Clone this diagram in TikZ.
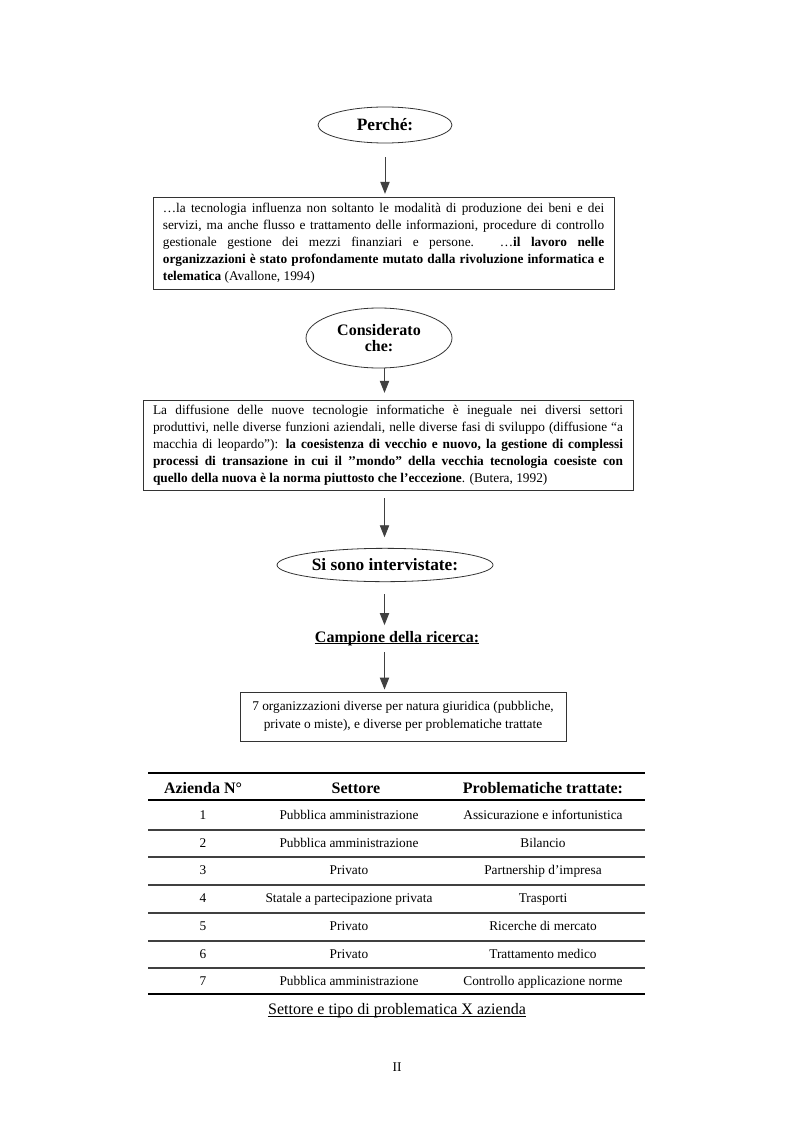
\documentclass[tikz,border=0pt]{standalone}
\usepackage{fontspec}
\setmainfont{Liberation Serif}
\usetikzlibrary{shapes.geometric,arrows.meta}
\begin{document}
\begin{tikzpicture}[x=0.75pt,y=-0.75pt,
  oval/.style={ellipse,draw=black!80,line width=0.6pt,inner sep=0pt,font=\fontsize{13}{14}\selectfont\bfseries,align=center},
  txtbox/.style={rectangle,draw=black!80,line width=0.7pt,inner sep=0pt},
  arr/.style={draw=black!75,line width=0.7pt,-{Triangle[width=7pt,length=9pt]}},
  cell/.style={inner sep=0pt,text height=7pt,text depth=2pt,font=\fontsize{10}{11}\selectfont},
  head/.style={inner sep=0pt,text height=8.5pt,text depth=2.5pt,font=\fontsize{12}{13}\selectfont\bfseries},
  uline/.style={line width=0.6pt,black},
  rulethick/.style={line width=1.5pt,black},
  rulethin/.style={line width=1pt,black!75}]
\useasboundingbox[fill=white] (0,0) rectangle (793,1123);

\node[oval,minimum width=100.5pt,minimum height=27pt] (e1) at (385,125) {Perché:};

\node[txtbox,minimum width=345.75pt,minimum height=69pt] (b1) at (383.5,243)
 {\parbox{331pt}{\fontsize{10}{12.75}\selectfont\leavevmode …la tecnologia influenza non soltanto le modalità di produzione dei beni e dei\linebreak servizi, ma anche flusso e trattamento delle informazioni, procedure di controllo\linebreak gestionale gestione dei mezzi finanziari e persone. …\textbf{il lavoro nelle\linebreak organizzazioni è stato profondamente mutato dalla rivoluzione informatica e\linebreak telematica} (Avallone, 1994)}};

\node[oval,minimum width=109.5pt,minimum height=45pt,font=\fontsize{12}{13}\selectfont\bfseries] (e2) at (379,338) {Considerato\\[-1pt]che:};

\node[txtbox,minimum width=367.5pt,minimum height=67.5pt] (b2) at (388,445)
 {\parbox{352.5pt}{\fontsize{10}{12.75}\selectfont\leavevmode La diffusione delle nuove tecnologie informatiche è ineguale nei diversi settori\linebreak produttivi, nelle diverse funzioni aziendali, nelle diverse fasi di sviluppo (diffusione “a\linebreak macchia di leopardo”): \textbf{la coesistenza di vecchio e nuovo, la gestione di complessi\linebreak processi di transazione in cui il ’’mondo” della vecchia tecnologia coesiste con\linebreak quello della nuova è la norma piuttosto che l’eccezione}. (Butera, 1992)}};

\node[oval,minimum width=162pt,minimum height=25pt] (e3) at (385,565) {Si sono intervistate:};

\node[inner sep=0pt,text height=8.5pt,text depth=2.5pt,font=\fontsize{12}{13}\selectfont\bfseries] (camp) at (397,638) {Campione della ricerca:};
\draw[uline] ([yshift=-1.4pt]camp.base west) -- ([yshift=-1.4pt]camp.base east);

\node[txtbox,minimum width=244.5pt,minimum height=36.75pt,align=center,font=\fontsize{10}{13.5}\selectfont] (b3) at (403,716.5)
 {7 organizzazioni diverse per natura giuridica (pubbliche,\\ private o miste), e diverse per problematiche trattate};

\coordinate (ax) at (384.5,0);
\draw[arr,shorten <=10.5pt,shorten >=2pt] (e1.south) -- (e1.south |- b1.north);
\draw[arr,shorten >=5pt] (ax |- e2.south) -- (ax |- b2.north);
\draw[arr,shorten <=6pt,shorten >=8pt] (ax |- b2.south) -- (ax |- e3.north);
\draw[arr,shorten <=9pt,shorten >=4pt] (ax |- e3.south) -- (ax |- camp.north);
\draw[arr,shorten <=5pt,shorten >=1.5pt] (ax |- camp.south) -- (ax |- b3.north);

% table
\draw[rulethick] (148,773) -- (645,773);
\draw[rulethick] (148,800) -- (645,800);
\foreach \y in {830,857,885,913,941,968} \draw[rulethin] (148,\y) -- (645,\y);
\draw[rulethick] (148,994) -- (645,994);

\node[head] (h1) at (203,789) {Azienda N°};
\node[head] (h2) at (356,789) {Settore};
\node[head] (h3) at (543,789) {Problematiche trattate:};

\foreach \i/\y/\s/\p in {1/816/Pubblica amministrazione/Assicurazione e infortunistica,
  2/844/Pubblica amministrazione/Bilancio,
  3/871/Privato/Partnership d’impresa,
  4/899/Statale a partecipazione privata/Trasporti,
  5/927/Privato/Ricerche di mercato,
  6/955/Privato/Trattamento medico,
  7/982/Pubblica amministrazione/Controllo applicazione norme}{
  \node[cell] (n\i) at (203,\y) {\i};
  \node[cell] (s\i) at (349,\y) {\s};
  \node[cell] (p\i) at (543,\y) {\p};
}

\node[inner sep=0pt,text height=8.5pt,text depth=2.5pt,font=\fontsize{12}{13}\selectfont] (cap) at (397,1010) {Settore e tipo di problematica X azienda};
\draw[uline] ([yshift=-1.6pt]cap.base west) -- ([yshift=-1.6pt]cap.base east);

\node[inner sep=0pt,font=\fontsize{10}{12}\selectfont] (pg) at (397,1067) {II};
\end{tikzpicture}
\end{document}
